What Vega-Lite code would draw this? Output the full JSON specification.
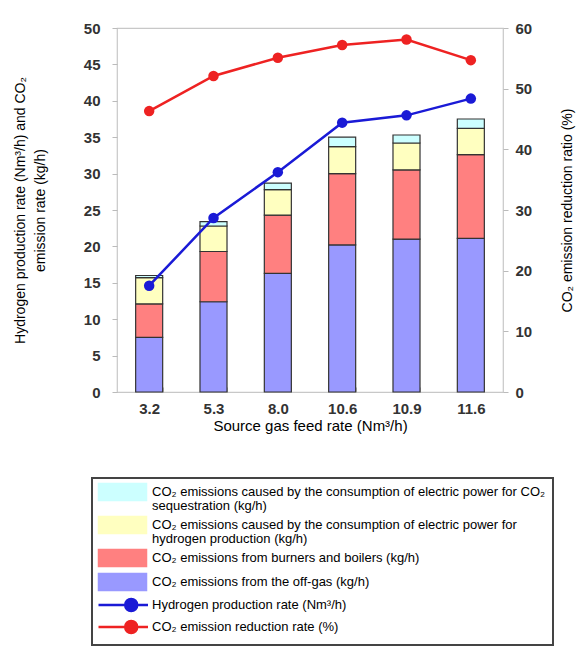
{
  "$schema": "https://vega.github.io/schema/vega-lite/v6.json",
  "description": "CO2 emissions by source and hydrogen production vs source gas feed rate.",
  "width": 386,
  "height": 364,
  "autosize": {"type": "none"},
  "padding": {"left": 117, "top": 28, "right": 73, "bottom": 255},
  "background": "white",
  "config": {
    "font": "Liberation Sans",
    "view": {"stroke": "#c8c8c8", "strokeWidth": 1.2},
    "axis": {
      "domain": false,
      "grid": false,
      "tickColor": "#bbbbbb",
      "labelFont": "Liberation Sans",
      "labelFontWeight": "bold",
      "labelFontSize": 15,
      "labelColor": "#333333",
      "titleFont": "Liberation Sans",
      "titleFontWeight": "normal",
      "titleColor": "#000000"
    }
  },
  "data": {
    "values": [
      {"feed": "3.2", "series": "1_offgas", "value": 7.5},
      {"feed": "3.2", "series": "2_burners", "value": 4.6},
      {"feed": "3.2", "series": "3_h2power", "value": 3.6},
      {"feed": "3.2", "series": "4_seqpower", "value": 0.3},
      {"feed": "3.2", "series": "h2rate", "value": 14.6},
      {"feed": "3.2", "series": "reduction", "value": 46.3},
      {"feed": "5.3", "series": "1_offgas", "value": 12.4},
      {"feed": "5.3", "series": "2_burners", "value": 6.9},
      {"feed": "5.3", "series": "3_h2power", "value": 3.5},
      {"feed": "5.3", "series": "4_seqpower", "value": 0.6},
      {"feed": "5.3", "series": "h2rate", "value": 23.9},
      {"feed": "5.3", "series": "reduction", "value": 52.1},
      {"feed": "8.0", "series": "1_offgas", "value": 16.3},
      {"feed": "8.0", "series": "2_burners", "value": 8.0},
      {"feed": "8.0", "series": "3_h2power", "value": 3.5},
      {"feed": "8.0", "series": "4_seqpower", "value": 0.9},
      {"feed": "8.0", "series": "h2rate", "value": 30.2},
      {"feed": "8.0", "series": "reduction", "value": 55.1},
      {"feed": "10.6", "series": "1_offgas", "value": 20.2},
      {"feed": "10.6", "series": "2_burners", "value": 9.8},
      {"feed": "10.6", "series": "3_h2power", "value": 3.7},
      {"feed": "10.6", "series": "4_seqpower", "value": 1.3},
      {"feed": "10.6", "series": "h2rate", "value": 37.0},
      {"feed": "10.6", "series": "reduction", "value": 57.2},
      {"feed": "10.9", "series": "1_offgas", "value": 21.0},
      {"feed": "10.9", "series": "2_burners", "value": 9.5},
      {"feed": "10.9", "series": "3_h2power", "value": 3.7},
      {"feed": "10.9", "series": "4_seqpower", "value": 1.1},
      {"feed": "10.9", "series": "h2rate", "value": 38.0},
      {"feed": "10.9", "series": "reduction", "value": 58.1},
      {"feed": "11.6", "series": "1_offgas", "value": 21.1},
      {"feed": "11.6", "series": "2_burners", "value": 11.5},
      {"feed": "11.6", "series": "3_h2power", "value": 3.6},
      {"feed": "11.6", "series": "4_seqpower", "value": 1.3},
      {"feed": "11.6", "series": "h2rate", "value": 40.3},
      {"feed": "11.6", "series": "reduction", "value": 54.7}
    ]
  },
  "encoding": {
    "x": {
      "field": "feed",
      "type": "ordinal",
      "sort": null,
      "scale": {"paddingInner": 0.58, "paddingOuter": 0.29},
      "axis": {
        "title": "Source gas feed rate (Nm³/h)",
        "titleFontSize": 15,
        "titlePadding": 2,
        "labelAngle": 0,
        "labelPadding": 14,
        "tickBand": "extent",
        "tickSize": -5
      }
    },
    "color": {
      "field": "series",
      "type": "nominal",
      "scale": {
        "domain": ["4_seqpower", "3_h2power", "2_burners", "1_offgas", "h2rate", "reduction"],
        "range": ["#ccffff", "#ffffc0", "#ff8080", "#9999ff", "#1a1ad6", "#ee2222"]
      },
      "legend": {
        "orient": "none",
        "legendX": -25,
        "legendY": 450,
        "title": null,
        "symbolSize": 144,
        "labelFont": "Liberation Sans",
        "labelFontSize": 13,
        "labelColor": "#000000",
        "labelLimit": 480,
        "labelOffset": 39,
        "rowPadding": 0,
        "padding": 7,
        "strokeColor": "#444444",
        "labelExpr": "datum.value == '4_seqpower' ? ['CO₂ emissions caused by the consumption of electric power for CO₂', 'sequestration (kg/h)'] : datum.value == '3_h2power' ? ['CO₂ emissions caused by the consumption of electric power for', 'hydrogen production (kg/h)'] : datum.value == '2_burners' ? 'CO₂ emissions from burners and boilers (kg/h)' : datum.value == '1_offgas' ? 'CO₂ emissions from the off-gas (kg/h)' : datum.value == 'h2rate' ? 'Hydrogen production rate (Nm³/h)' : 'CO₂ emission reduction rate (%)'",
        "encode": {
          "legend": {"update": {"strokeWidth": {"value": 2}}},
          "labels": {"update": {"lineHeight": {"value": 13.5}}},
          "symbols": {
            "update": {
              "shape": {"signal": "(indexof(['h2rate', 'reduction'], datum.value) >= 0 ? 'M-1.25,0H7M5.2,0A1,1 0 1,1 3.2,0A1,1 0 1,1 5.2,0Z' : 'M-1.25,-1.42H6.75V1.42H-1.25Z')"},
              "fill": {"signal": "scale('color', datum.value)"},
              "stroke": {"signal": "(datum.value == 'h2rate' ? '#1a1ad6' : datum.value == 'reduction' ? '#ee2222' : '#444444')"},
              "strokeWidth": {"signal": "(indexof(['h2rate', 'reduction'], datum.value) >= 0 ? 2.5 : 1.5)"},
              "opacity": {"value": 1},
              "fillOpacity": {"value": 1}
            }
          }
        }
      }
    }
  },
  "layer": [
    {
      "encoding": {
        "y": {
          "field": "value",
          "type": "quantitative",
          "scale": {"domain": [0, 50]},
          "axis": {
            "title": ["Hydrogen production rate (Nm³/h) and CO₂", "emission rate (kg/h)"],
            "titleFontSize": 14,
            "titleLineHeight": 20,
            "titlePadding": 36,
            "values": [0, 5, 10, 15, 20, 25, 30, 35, 40, 45, 50],
            "tickSize": 5,
            "labelPadding": 12
          }
        }
      },
      "layer": [
        {
          "transform": [{"filter": {"field": "series", "oneOf": ["1_offgas", "2_burners", "3_h2power", "4_seqpower"]}}],
          "mark": {"type": "bar", "stroke": "#333333", "strokeWidth": 1.2},
          "encoding": {
            "order": {"field": "series", "sort": "ascending"}
          }
        },
        {
          "transform": [{"filter": "datum.series == 'h2rate'"}],
          "mark": {"type": "line", "strokeWidth": 2.5, "point": {"filled": true, "size": 110}}
        }
      ]
    },
    {
      "transform": [{"filter": "datum.series == 'reduction'"}],
      "mark": {"type": "line", "strokeWidth": 2.5, "point": {"filled": true, "size": 110}},
      "encoding": {
        "y": {
          "field": "value",
          "type": "quantitative",
          "scale": {"domain": [0, 60]},
          "axis": {
            "orient": "right",
            "title": "CO₂ emission reduction ratio (%)",
            "titleFontSize": 14,
            "titleAngle": 270,
            "titlePadding": 43,
            "values": [0, 10, 20, 30, 40, 50, 60],
            "tickSize": 5,
            "labelPadding": 7
          }
        }
      }
    }
  ],
  "resolve": {"scale": {"y": "independent"}, "axis": {"y": "independent"}}
}
